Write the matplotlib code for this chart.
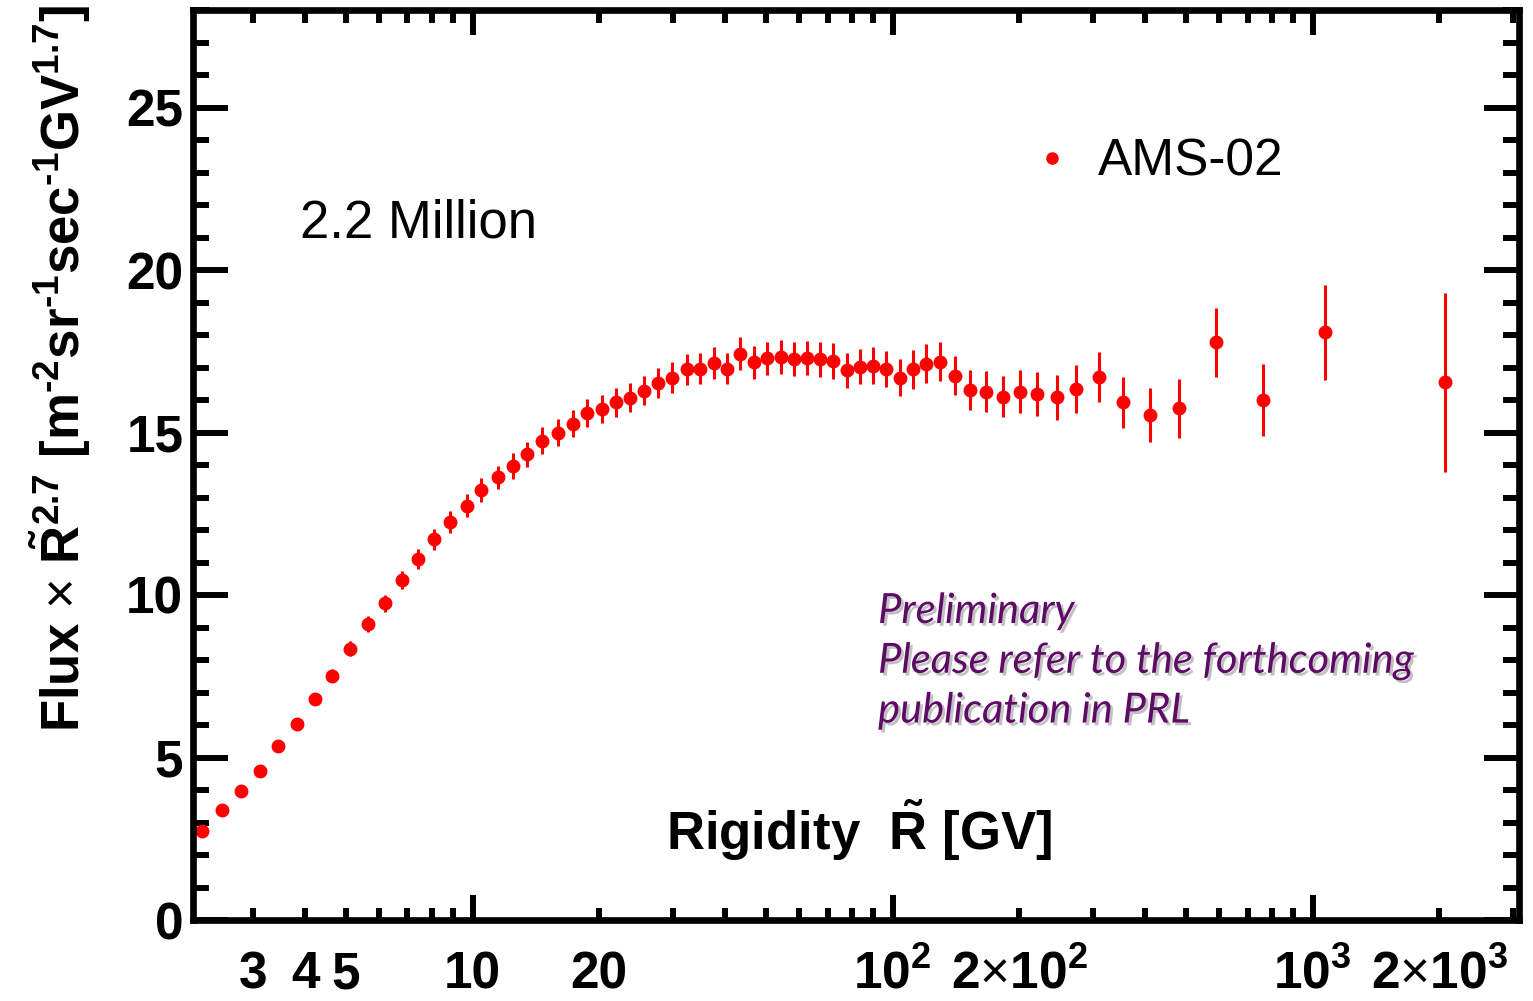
import matplotlib
matplotlib.use("Agg")
import matplotlib.pyplot as plt
import matplotlib.patheffects as pe
from matplotlib.lines import Line2D
from matplotlib.ticker import FixedLocator, FuncFormatter

# Data
rigidity = [2.27, 2.53, 2.81, 3.12, 3.45, 3.81, 4.21, 4.63, 5.11, 5.63,
            6.18, 6.78, 7.42, 8.10, 8.85, 9.68, 10.5, 11.5, 12.5, 13.5,
            14.6, 16.0, 17.3, 18.7, 20.3, 21.9, 23.7, 25.6, 27.7, 29.9,
            32.4, 34.7, 37.5, 40.4, 43.4, 46.7, 50.2, 54.2, 58.2, 62.5,
            67.1, 72.2, 77.8, 83.5, 89.7, 96.3, 104, 112, 120, 130,
            141, 153, 167, 183, 201, 221, 246, 274, 310, 353,
            409, 482, 588, 762, 1070, 2070]
flux = [2.75, 3.37, 3.98, 4.60, 5.34, 6.03, 6.79, 7.52, 8.34, 9.11,
        9.74, 10.45, 11.11, 11.71, 12.25, 12.75, 13.23, 13.62, 13.97, 14.33,
        14.75, 15.00, 15.27, 15.60, 15.72, 15.93, 16.07, 16.29, 16.52, 16.69,
        16.94, 16.96, 17.14, 16.96, 17.42, 17.16, 17.28, 17.33, 17.27, 17.29,
        17.25, 17.20, 16.91, 17.03, 17.06, 16.96, 16.69, 16.94, 17.11, 17.18,
        16.75, 16.31, 16.26, 16.10, 16.26, 16.19, 16.08, 16.34, 16.71, 15.93,
        15.54, 15.74, 17.77, 16.00, 18.08, 16.54]
errors = [0.05, 0.06, 0.08, 0.10, 0.12, 0.14, 0.17, 0.20, 0.23, 0.24,
          0.26, 0.28, 0.30, 0.32, 0.34, 0.35, 0.36, 0.36, 0.39, 0.38,
          0.42, 0.42, 0.42, 0.44, 0.44, 0.45, 0.45, 0.45, 0.47, 0.47,
          0.48, 0.48, 0.50, 0.48, 0.51, 0.51, 0.50, 0.52, 0.53, 0.53,
          0.54, 0.54, 0.54, 0.55, 0.56, 0.56, 0.56, 0.59, 0.60, 0.61,
          0.61, 0.62, 0.62, 0.63, 0.66, 0.68, 0.69, 0.73, 0.78, 0.79,
          0.82, 0.90, 1.06, 1.11, 1.45, 2.74]

x_labels = {3: "3", 4: "4", 5: "5", 10: "10", 20: "20",
            100: r"$10^{2}$", 200: r"$2\mathsf{\times}10^{2}$",
            1000: r"$10^{3}$", 2000: r"$2\mathsf{\times}10^{3}$"}
y_major = [0, 5, 10, 15, 20, 25]

plt.rcParams["font.family"] = ["Liberation Sans", "DejaVu Sans"]
plt.rcParams["mathtext.fontset"] = "custom"
plt.rcParams["mathtext.rm"] = "Liberation Sans:bold"
plt.rcParams["mathtext.it"] = "Liberation Sans:bold:italic"
plt.rcParams["mathtext.bf"] = "Liberation Sans:bold"
plt.rcParams["mathtext.sf"] = "Liberation Sans"

W, H = 1533, 1001
fig = plt.figure(figsize=(W / 100, H / 100), dpi=100)
ax = fig.add_axes([193 / W, 1 - 920 / H, (1519 - 193) / W, (920 - 10) / H])

ax.errorbar(rigidity, flux, yerr=errors, fmt="o", color="red", ms=9,
            elinewidth=2.2, capsize=0, mec="red")

ax.set_xscale("log")
ax.set_xlim(2.16, 3100)
ax.set_ylim(0, 28)

# ticks
majors_x = [10, 100, 1000]
minors_x = [m * d for d in (1, 10, 100, 1000) for m in range(2, 10) if m * d < 3100]
ax.xaxis.set_major_locator(FixedLocator(majors_x))
ax.xaxis.set_minor_locator(FixedLocator(minors_x))
fmt = FuncFormatter(lambda v, p: x_labels.get(int(round(v)), ""))
ax.xaxis.set_major_formatter(fmt)
ax.xaxis.set_minor_formatter(fmt)
ax.yaxis.set_major_locator(FixedLocator(y_major))
ax.yaxis.set_minor_locator(FixedLocator(range(0, 29)))

for s in ax.spines.values():
    s.set_linewidth(4.8)

ax.tick_params(axis="both", which="both", direction="in", top=True, right=True,
               width=4.3, labelsize=37, color="black")
ax.tick_params(axis="x", which="major", length=18, pad=49)
ax.tick_params(axis="x", which="minor", length=9, pad=49)
ax.tick_params(axis="y", which="major", length=25, pad=7)
ax.tick_params(axis="y", which="minor", length=11.5)

fig.canvas.draw()
for lbl in ax.get_xticklabels(which="both"):
    lbl.set_fontweight("bold")
    lbl.set_verticalalignment("baseline")
for lbl in ax.get_yticklabels():
    lbl.set_fontweight("bold")

# axis titles (ROOT style)
hy = "\u2010"
ylab = (r"Flux $\mathsf{\times}$ $\tilde{\mathrm{R}}^{2.7}$ "
        "[m$^{" + hy + "2}$sr$^{" + hy + "1}$sec$^{" + hy + "1}$GV$^{1.7}$]")
fig.text(80 / W, 1 - 5 / H, ylab,
         rotation=90, rotation_mode="anchor", ha="right", va="baseline",
         fontsize=38, fontweight="bold")
fig.text(666 / W, 1 - 850 / H, r"Rigidity  $\tilde{\mathrm{R}}$ [GV]",
         ha="left", va="baseline", fontsize=38, fontweight="bold")

fig.text(300 / W, 1 - 237 / H, "2.2 Million", ha="left", va="baseline",
         fontsize=38)

handle = Line2D([], [], marker="o", ls="none", color="red", ms=8)
ax.legend([handle], ["AMS-02"], loc="center left",
          bbox_to_anchor=(1026 / W, 1 - 162 / H),
          bbox_transform=fig.transFigure, frameon=False, fontsize=37,
          handlelength=1.0, handletextpad=0.4, borderpad=0, borderaxespad=0)

prelim = "Preliminary\nPlease refer to the forthcoming\npublication in PRL"
t = fig.text(878 / W, 1 - 592 / H, prelim, ha="left", va="top",
             fontsize=30, style="italic", color="#5e0a66",
             family=["Lato", "DejaVu Sans"], linespacing=1.38,
             multialignment="left")
t.set_path_effects([pe.SimplePatchShadow(offset=(2, -2), shadow_rgbFace="#999999", alpha=0.6),
                    pe.Normal()])

fig.savefig("out.png", dpi=100)
